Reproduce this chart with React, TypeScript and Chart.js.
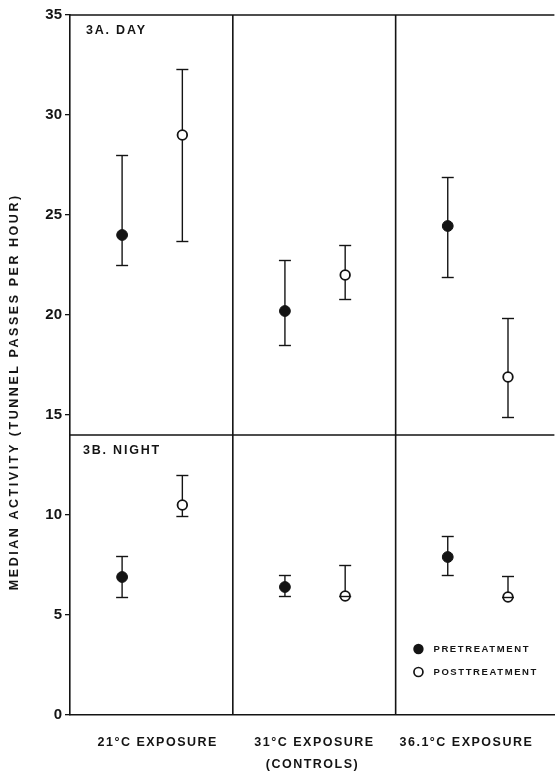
import React, { useEffect, useRef } from "react";
import { Chart, registerables } from "chart.js";
Chart.register(...registerables);

// ---- data ----
const panelLabels = ["21°C EXPOSURE", "31°C EXPOSURE", "36.1°C EXPOSURE"];
const panelSubLabels = ["", "(CONTROLS)", ""];
const panelLabelAt = [0.534, 1.497, 2.43];
const dividers = [1, 2];
const dayNightSplit = 14;
const sectionLabels = ["3A. DAY", "3B. NIGHT"];
const yTickValues = [0, 5, 10, 15, 20, 25, 30, 35];
const yTitle = "MEDIAN ACTIVITY (TUNNEL PASSES PER HOUR)";
const legendLabels = ["PRETREATMENT", "POSTTREATMENT"];

const preX = [0.32, 1.32, 2.32];
const postX = [0.69, 1.69, 2.69];

const dayPre = [24.0, 20.2, 24.45];
const dayPreHi = [28.0, 22.75, 26.9];
const dayPreLo = [22.5, 18.5, 21.9];
const dayPost = [29.0, 22.0, 16.9];
const dayPostHi = [32.3, 23.5, 19.85];
const dayPostLo = [23.7, 20.8, 14.9];

const nightPre = [6.9, 6.4, 7.9];
const nightPreHi = [7.95, 7.0, 8.95];
const nightPreLo = [5.9, 5.95, 7.0];
const nightPost = [10.5, 5.95, 5.9];
const nightPostHi = [12.0, 7.5, 6.95];
const nightPostLo = [9.95, 5.95, 5.9];

const INK = "#141414";
const FONT = "'Liberation Sans', Arial, sans-serif";

function build(xs: number[], v: number[], hi: number[], lo: number[]) {
  return xs.map((x, i) => ({ x, y: v[i], hi: hi[i], lo: lo[i] }));
}

const errorBarPlugin = {
  id: "errorBars",
  beforeDatasetsDraw(chart: any) {
    const { ctx, scales } = chart;
    const y = scales.y;
    ctx.save();
    ctx.strokeStyle = INK;
    ctx.lineWidth = 1.4;
    chart.data.datasets.forEach((ds: any, di: number) => {
      const meta = chart.getDatasetMeta(di);
      ds.data.forEach((d: any, i: number) => {
        const px = meta.data[i].x;
        ctx.beginPath();
        ctx.moveTo(px, y.getPixelForValue(d.lo));
        ctx.lineTo(px, y.getPixelForValue(d.hi));
        ctx.stroke();
      });
    });
    ctx.restore();
  },
  afterDatasetsDraw(chart: any) {
    const { ctx, scales } = chart;
    const y = scales.y;
    ctx.save();
    ctx.strokeStyle = INK;
    ctx.lineWidth = 1.4;
    chart.data.datasets.forEach((ds: any, di: number) => {
      const meta = chart.getDatasetMeta(di);
      ds.data.forEach((d: any, i: number) => {
        const px = meta.data[i].x;
        [d.lo, d.hi].forEach((v: number) => {
          const py = Math.round(y.getPixelForValue(v)) + 0.5;
          ctx.beginPath();
          ctx.moveTo(px - 6, py);
          ctx.lineTo(px + 6, py);
          ctx.stroke();
        });
      });
    });
    ctx.restore();
  },
};

const framePlugin = {
  id: "frame",
  beforeDatasetsDraw(chart: any) {
    const { ctx, chartArea: a, scales } = chart;
    ctx.save();
    ctx.strokeStyle = INK;
    ctx.lineWidth = 1.6;
    ctx.beginPath();
    ctx.moveTo(a.left, a.top);
    ctx.lineTo(a.right, a.top);
    const sy = scales.y.getPixelForValue(dayNightSplit);
    ctx.moveTo(a.left, sy);
    ctx.lineTo(a.right, sy);
    dividers.forEach((v) => {
      const px = scales.x.getPixelForValue(v);
      ctx.moveTo(px, a.top);
      ctx.lineTo(px, a.bottom);
    });
    ctx.stroke();
    ctx.restore();
  },
};

function spacedText(ctx: any, text: string, x: number, y: number, spacing: number, align: string) {
  ctx.letterSpacing = spacing + "px";
  const w = ctx.measureText(text).width - spacing;
  let sx = x;
  if (align === "center") sx = x - w / 2;
  else if (align === "right") sx = x - w;
  ctx.textAlign = "left";
  ctx.fillText(text, sx, y);
  ctx.letterSpacing = "0px";
}

const textPlugin = {
  id: "texts",
  afterDraw(chart: any) {
    const { ctx, chartArea: a, scales } = chart;
    ctx.save();
    ctx.fillStyle = INK;
    ctx.textBaseline = "middle";

    // y title
    ctx.save();
    ctx.translate(15, 393);
    ctx.rotate(-Math.PI / 2);
    ctx.font = `bold 12.5px ${FONT}`;
    spacedText(ctx, yTitle, 0, 0, 2.55, "center");
    ctx.restore();

    // section labels
    ctx.font = `bold 12.5px ${FONT}`;
    spacedText(ctx, sectionLabels[0], a.left + 16, a.top + 16, 1.8, "left");
    const sy = scales.y.getPixelForValue(dayNightSplit);
    spacedText(ctx, sectionLabels[1], a.left + 13, sy + 16, 1.8, "left");

    // x category labels
    ctx.font = `bold 12.5px ${FONT}`;
    panelLabels.forEach((lab, i) => {
      const px = scales.x.getPixelForValue(panelLabelAt[i]);
      spacedText(ctx, lab, px, a.bottom + 28, 1.5, "center");
      if (panelSubLabels[i]) spacedText(ctx, panelSubLabels[i], px - 2, a.bottom + 50, 1.5, "center");
    });

    // legend
    const lx = scales.x.getPixelForValue(2.14);
    const ly1 = scales.y.getPixelForValue(3.3);
    const ly2 = ly1 + 23;
    ctx.beginPath();
    ctx.arc(lx, ly1, 5.2, 0, Math.PI * 2);
    ctx.fill();
    ctx.beginPath();
    ctx.arc(lx, ly2, 4.5, 0, Math.PI * 2);
    ctx.lineWidth = 1.7;
    ctx.strokeStyle = INK;
    ctx.stroke();
    ctx.font = `bold 9.5px ${FONT}`;
    spacedText(ctx, legendLabels[0], lx + 15, ly1, 1.6, "left");
    spacedText(ctx, legendLabels[1], lx + 15, ly2, 1.6, "left");

    ctx.restore();
  },
};

export default function App() {
  const ref = useRef<HTMLCanvasElement>(null);
  useEffect(() => {
    document.body.style.margin = "0";
    document.body.style.overflow = "hidden";
    const chart = new Chart(ref.current as HTMLCanvasElement, {
      type: "scatter",
      data: {
        datasets: [
          {
            label: legendLabels[0],
            data: [...build(preX, dayPre, dayPreHi, dayPreLo), ...build(preX, nightPre, nightPreHi, nightPreLo)],
            pointRadius: 5.4,
            pointBackgroundColor: INK,
            pointBorderColor: INK,
            pointBorderWidth: 1,
            showLine: false,
          } as any,
          {
            label: legendLabels[1],
            data: [...build(postX, dayPost, dayPostHi, dayPostLo), ...build(postX, nightPost, nightPostHi, nightPostLo)],
            pointRadius: 4.8,
            pointBackgroundColor: "#ffffff",
            pointBorderColor: INK,
            pointBorderWidth: 1.8,
            showLine: false,
          } as any,
        ],
      },
      options: {
        responsive: false,
        animation: false,
        layout: { padding: { top: 15, left: 0, right: 0, bottom: 0 } },
        plugins: { legend: { display: false }, tooltip: { enabled: false }, title: { display: false } },
        scales: {
          x: {
            type: "linear",
            min: 0,
            max: 2.975,
            grid: { display: false },
            border: { display: true, color: INK, width: 1.6 },
            ticks: { display: false },
            afterFit: (s: any) => {
              s.height = 61;
            },
          },
          y: {
            type: "linear",
            min: 0,
            max: 35,
            afterBuildTicks: (s: any) => {
              s.ticks = yTickValues.map((v) => ({ value: v }));
            },
            grid: { display: true, drawOnChartArea: false, drawTicks: true, tickLength: 5, color: INK, lineWidth: 1.3 },
            border: { display: true, color: INK, width: 1.6 },
            ticks: {
              color: INK,
              padding: 3,
              font: { family: FONT, size: 15, weight: "bold" },
            },
            afterFit: (s: any) => {
              s.width = 70;
            },
          },
        },
      } as any,
      plugins: [framePlugin, errorBarPlugin, textPlugin],
    });
    return () => chart.destroy();
  }, []);
  return (
    <div style={{ position: "absolute", left: 0, top: 0, width: 555, height: 776, overflow: "hidden", background: "#fff" }}>
      <canvas ref={ref} width={561} height={776} style={{ display: "block" }} />
    </div>
  );
}
